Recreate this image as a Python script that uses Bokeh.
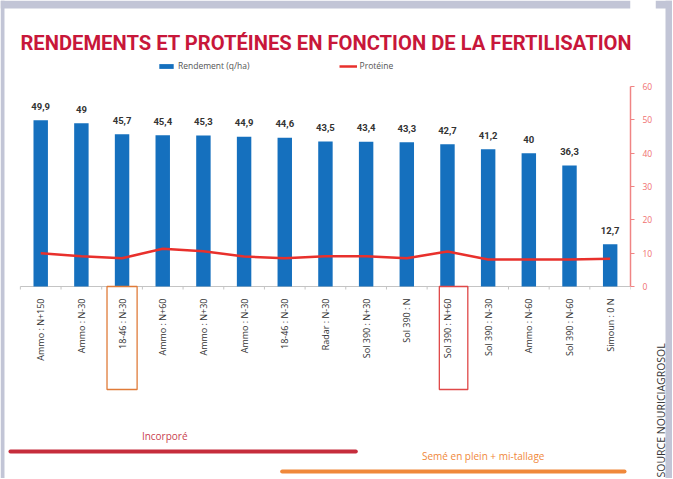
import math
from bokeh.plotting import figure
from bokeh.layouts import row
from bokeh.models import Range1d, LinearAxis, FixedTicker, Legend, LegendItem, ColumnDataSource
from bokeh.core.properties import value
from bokeh.embed import file_html
from bokeh.resources import INLINE

# ---------------- data ----------------
categories = ["Ammo : N+150", "Ammo : N-30", "18-46 : N-30", "Ammo : N+60", "Ammo : N+30",
              "Ammo : N-30", "18-46 : N-30", "Radar : N-30", "Sol 390 : N+30", "Sol 390 : N",
              "Sol 390 : N+60", "Sol 390 : N-30", "Ammo : N-60", "Sol 390 : N-60", "Simoun : 0 N"]
rendement = [49.9, 49, 45.7, 45.4, 45.3, 44.9, 44.6, 43.5, 43.4, 43.3, 42.7, 41.2, 40, 36.3, 12.7]
proteine = [10.0, 9.1, 8.5, 11.3, 10.6, 9.0, 8.5, 9.1, 9.1, 8.5, 10.5, 8.1, 8.1, 8.1, 8.3]
axis_ticks = [0, 10, 20, 30, 40, 50, 60]
highlighted = [2, 10]
group_labels = ["Incorporé", "Semé en plein + mi-tallage"]
title_text = "RENDEMENTS ET PROTÉINES EN FONCTION DE LA FERTILISATION"
source_text = "SOURCE NOURICIAGROSOL"

# ---------------- styles ----------------
BLUE = "#1570BE"
RED = "#E8302C"
AXIS_RED = "#F08484"
GRAY_BG = "#C2C5D6"
TITLE_RED = "#C8173A"

W_MAIN, W_SIDE, H = 655, 17, 478
BORDER_R = 22
PX_X = 40.87          # px per category
X0_PX = 40.4          # px position of first bar
PX_Y = 200 / 60       # px per unit
ZERO_PX = 286         # px position of y = 0
FRAME_W = W_MAIN - BORDER_R

x_start = -X0_PX / PX_X
x_end = x_start + FRAME_W / PX_X
y_end = ZERO_PX / PX_Y
y_start = -(H - ZERO_PX) / PX_Y


def px_x(v):
    return x_start + v / PX_X


def px_y(v):
    return (ZERO_PX - v) / PX_Y


xs = list(range(len(categories)))
val_labels = [f"{v:g}".replace(".", ",") for v in rendement]
src = ColumnDataSource(dict(x=xs, y=rendement, lab=val_labels, cat=categories, zero=[0] * len(xs)))

p = figure(width=W_MAIN, height=H, output_backend="svg", toolbar_location=None,
           x_range=Range1d(x_start, x_end), y_range=Range1d(y_start, y_end),
           x_axis_type=None, y_axis_type=None,
           min_border_left=0, min_border_right=BORDER_R, min_border_top=0, min_border_bottom=0,
           outline_line_color=None, background_fill_color="white", border_fill_color="white")

# gray surround strips (top and left)
p.quad(left=[x_start, x_start], right=[x_end, px_x(4)], top=[y_end, y_end],
       bottom=[px_y(8), y_start], fill_color=GRAY_BG, line_color=None)

# title
p.text(x=[px_x(20)], y=[px_y(42)], text=[title_text], text_align="left",
       text_baseline="alphabetic", text_font=value("Roboto"), text_font_style="bold",
       text_font_size="20.2px", text_color=TITLE_RED)

# x axis line + boundary ticks
p.segment(x0=-0.5, x1=14.5, y0=0, y1=0, line_color="#C4C4C4", line_width=1)
bounds = [i + 0.5 for i in range(-1, len(xs))]
p.segment(x0=bounds, x1=bounds, y0=[0] * len(bounds), y1=[-0.9] * len(bounds),
          line_color="#C4C4C4", line_width=1)

bars = p.vbar(x="x", top="y", width=0.355, source=src, fill_color=BLUE, line_color=None)
line = p.line(xs, proteine, line_color=RED, line_width=2.5, line_join="round")

p.text(x="x", y="y", text="lab", source=src, text_align="center", text_baseline="middle",
       y_offset=-14, text_font=value("Roboto"), text_font_style="bold",
       text_font_size="9.5px", text_color="#333333")

p.text(x="x", y="zero", text="cat", source=src, angle=math.pi / 2, text_align="right",
       text_baseline="middle", y_offset=12, text_font=value("Open Sans"),
       text_font_size="9px", text_color="#333333")

# highlight boxes
p.quad(left=[highlighted[0] - 0.37, highlighted[1] - 0.2],
       right=[highlighted[0] + 0.37, highlighted[1] + 0.5],
       top=[0, 0], bottom=[px_y(389)] * 2, fill_color=None,
       line_color=["#E07B39", "#E04848"], line_width=1.3)

# group annotations
p.segment(x0=[px_x(10), px_x(283)], x1=[px_x(357), px_x(627)],
          y0=[px_y(451), px_y(471)], y1=[px_y(451), px_y(471)],
          line_color=["#C62D3C", "#F0883A"], line_width=4, line_cap="round")
p.text(x=[px_x(165), px_x(485)], y=[px_y(435), px_y(455)], text=group_labels,
       text_align="center", text_baseline="middle", text_font=value("Open Sans"),
       text_font_size="10px", text_color=["#C94050", "#F0883A"])

# right axis
ax = LinearAxis(bounds=(0, 60), ticker=FixedTicker(ticks=axis_ticks),
                axis_line_color=AXIS_RED, axis_line_width=1.5,
                major_tick_line_color=AXIS_RED, major_tick_out=4, major_tick_in=0,
                minor_tick_line_color=None, major_label_text_color="#F07070",
                major_label_text_font_size="8.5px", major_label_standoff=8,
                major_label_text_font="Open Sans")
p.add_layout(ax, "right")

legend = Legend(items=[LegendItem(label="Rendement (q/ha)", renderers=[bars]),
                       LegendItem(label="Protéine", renderers=[line])],
                orientation="horizontal", location=(157, H - 71),
                glyph_width=18, glyph_height=6, label_height=8, label_standoff=3,
                spacing=89, padding=0, margin=0, border_line_color=None,
                background_fill_alpha=0, label_text_font_size="8.5px",
                label_text_color="#555555", label_text_font="Open Sans")
p.add_layout(legend)

# side strip with the source credit
s = figure(width=W_SIDE, height=H, output_backend="svg", toolbar_location=None,
           x_range=Range1d(0, W_SIDE), y_range=Range1d(0, H),
           x_axis_type=None, y_axis_type=None, min_border=0,
           outline_line_color=None, background_fill_color="white", border_fill_color="white")
s.quad(left=[10, 0], right=[W_SIDE, W_SIDE], top=[H, H], bottom=[0, H - 8],
       fill_color=GRAY_BG, line_color=None)
s.text(x=[5], y=[1], text=[source_text], angle=math.pi / 2, text_align="left",
       text_baseline="alphabetic", text_font=value("Open Sans"), text_font_size="10.5px",
       text_color="#333333")

layout = row(p, s)
open("out.html", "w").write(file_html(layout, INLINE))
